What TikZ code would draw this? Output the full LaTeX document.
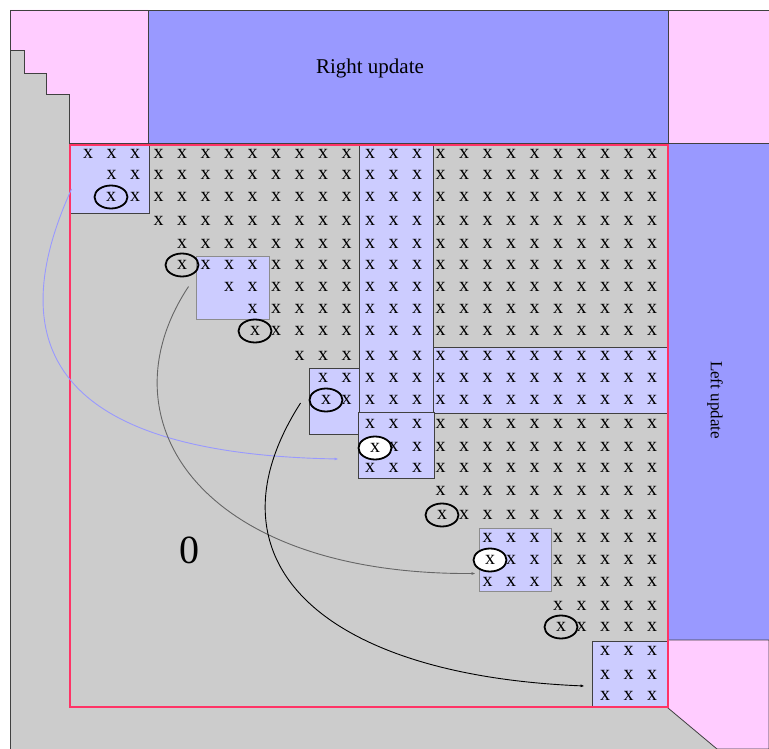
\documentclass[tikz,border=0pt]{standalone}
\usepackage{fontspec}
\setmainfont{Liberation Serif}
\usetikzlibrary{arrows.meta,positioning,shapes.geometric,calc,fit}
\definecolor{mgrey}{RGB}{204,204,204}
\definecolor{upink}{RGB}{255,204,255}
\definecolor{ublue}{RGB}{153,153,255}
\definecolor{lblue}{RGB}{204,204,255}
\definecolor{wred}{RGB}{255,51,102}
\tikzset{
  >={Latex[length=4pt,width=3pt]},
  region/.style={draw=black!75, line width=0.8pt, inner sep=0pt},
  blk/.style={draw=black!75, fill=lblue, line width=0.9pt, inner sep=0pt},
  blkpale/.style={blk, draw=black!45},
  active/.style={draw=wred, line width=1.4pt, inner sep=0pt},
  ent/.style={inner sep=0pt, font=\fontsize{20}{20}\selectfont},
  bulge/.style={ellipse, draw, line width=1.8pt, minimum width=33pt, minimum height=23pt, inner sep=0pt, font=\fontsize{20}{20}\selectfont},
  wbulge/.style={bulge, fill=white},
  lbl/.style={font=\fontsize{21}{24}\selectfont},
}
\begin{document}
\begin{tikzpicture}[x=1pt, y=-1pt]
  \useasboundingbox (0,0) rectangle (769,749);
  % matrix background and update regions
  \fill[mgrey] (10,10) rectangle (769,749);
  \draw[region] (769,10) -- (10,10) -- (10,749);
  \draw[region, fill=upink] (10,10) -- (148,10) -- (148,143) -- (69,143) -- (69,94) -- (46,94)
    -- (46,73) -- (24,73) -- (24,50) -- (10,50) -- cycle;
  \node[region, fill=ublue, fit={(148,10) (668,143)}] (rupd) {};
  \node[region, fill=upink, fit={(668,10) (769,143)}] (tr) {};
  \node[region, fill=ublue, fit={(668,143) (769,640)}] (lupd) {};
  \draw[region, fill=upink] (668,640) -- (769,640) -- (769,749) -- (717,749) -- (668,708) -- cycle;

  \node[lbl] (rtext) at (370,68) {Right update};
  \node[font=\fontsize{17}{20}\selectfont, rotate=-90] (ltext) at (715,400) {Left update};
  \node[font=\fontsize{40}{40}\selectfont] (zero) at (189,550) {0};

  % bulge blocks
  \node[blk, fit={(70,145) (149,213)}] (blkA) {};
  \node[blkpale, fit={(196,256) (269,319)}] (blkB) {};
  \node[blk, fit={(359,145) (433,412)}] (blkC) {};
  \node[blk, fit={(309,368) (359,434)}] (blkD) {};
  \node[blk, fit={(433,347) (668,413)}] (blkE) {};
  \node[blk, fit={(358,412) (434,478)}] (blkF) {};
  \node[blkpale, fit={(479,528) (551,591)}] (blkG) {};
  \node[blk, fit={(592,641) (668,707)}] (blkH) {};

  % entries
  \foreach \r/\y/\s in {0/154/0, 1/175/1, 2/197/2, 3/221/3, 4/244/4, 5/265/5, 6/287/6, 7/309/7,
      8/331/8, 9/356/9, 10/378/10, 11/400/11, 12/424/12, 13/447/13, 14/468/12, 15/491/15,
      16/515/16, 17/538/17, 18/560/18, 19/582/17, 20/606/20, 21/627/21, 22/651/22, 23/675/22, 24/696/22}
    \foreach \c in {\s,...,24}
      \node[ent] (x-\r-\c) at (88+23.5*\c, \y) {x};

  \node[bulge] (bl-1) at (111,197) {x};
  \node[bulge] (bl-2) at (182,265) {x};
  \node[bulge] (bl-3) at (255,331) {x};
  \node[bulge] (bl-4) at (326,400) {x};
  \node[bulge] (bl-5) at (442,515) {x};
  \node[bulge] (bl-6) at (561,627) {x};
  \node[wbulge] (wb-1) at (375,448) {x};
  \node[wbulge] (wb-2) at (490,560) {x};

  \node[active, fit={(70,145) (668,707)}] (win) {};

  % chasing arrows
  \draw[->, ublue, line width=0.9pt] ($(blkA.west)+(2,10)$) .. controls (-20,390) and (120,455) .. ($(blkF.west)+(-19,14)$);
  \draw[->, black!60, line width=0.9pt] ($(blkB.west)+(-7,-1)$) .. controls (100,420) and (200,575) .. ($(blkG.west)+(-3,14)$);
  \draw[->, line width=0.9pt] ($(blkD.west)+(-8,2)$) .. controls (200,560) and (320,675) .. ($(blkH.west)+(-7,12)$);
\end{tikzpicture}
\end{document}
